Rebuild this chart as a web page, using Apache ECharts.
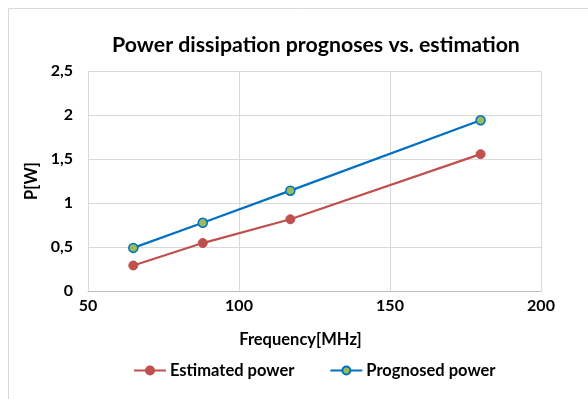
<!DOCTYPE html>
<html><head><meta charset="utf-8">
<script src="https://cdn.jsdelivr.net/npm/echarts@6/dist/echarts.min.js"></script>
<style>html,body{margin:0;padding:0;background:#fff}#c{width:588px;height:399px}</style>
</head><body><div id="c"></div>
<script>
const frequency = [65, 88, 117, 180];
const estimatedPower = [0.29, 0.545, 0.815, 1.555];
const prognosedPower = [0.49, 0.775, 1.14, 1.94];
const xTicks = [50, 100, 150, 200];
const yTicks = [0, 0.5, 1, 1.5, 2, 2.5];

const FONT = 'Lato, "Open Sans", sans-serif';
const chart = echarts.init(document.getElementById('c'), null, {renderer: 'canvas'});
const fmt = v => String(v).replace('.', ',');
chart.setOption({
  animation: false,
  backgroundColor: '#fff',
  graphic: [{type: 'rect', shape: {x: 8.5, y: 8.5, width: 600, height: 420}, style: {fill: 'none', stroke: '#D9D9D9', lineWidth: 1}, silent: true}],
  title: {text: 'Power dissipation prognoses vs. estimation', left: 311, top: 30, textAlign: 'center',
    textStyle: {fontFamily: FONT, fontSize: 21.3, fontWeight: 'bold', color: '#000'}},
  grid: {left: 88, right: 47, top: 71, bottom: 108},
  xAxis: {type: 'value', min: xTicks[0], max: xTicks[xTicks.length-1], interval: 50,
    name: 'Frequency[MHz]', nameLocation: 'middle', nameGap: 40,
    nameTextStyle: {fontFamily: FONT, fontSize: 16.5, fontWeight: 'bold', color: '#000', padding: [0, 28, 0, 0]},
    axisLine: {lineStyle: {color: '#BFBFBF'}}, axisTick: {show: false},
    axisLabel: {fontFamily: FONT, fontSize: 16, fontWeight: 'bold', color: '#000', margin: 7},
    splitLine: {lineStyle: {color: '#D9D9D9'}}},
  yAxis: {type: 'value', min: 0, max: 2.5, interval: 0.5,
    name: 'P[W]', nameLocation: 'middle', nameGap: 47, nameRotate: 90,
    nameTextStyle: {fontFamily: FONT, fontSize: 16.5, fontWeight: 'bold', color: '#000'},
    axisLine: {show: false}, axisTick: {show: false},
    axisLabel: {fontFamily: FONT, fontSize: 16, fontWeight: 'bold', color: '#000', margin: 15, formatter: fmt},
    splitLine: {lineStyle: {color: '#D9D9D9'}}},
  legend: {top: 357, left: 128, itemGap: 35, itemWidth: 32, itemHeight: 10,
    textStyle: {fontFamily: FONT, fontSize: 16.5, fontWeight: 'bold', color: '#000', padding: [0,0,0,-1]},
    data: ['Estimated power', 'Prognosed power']},
  series: [
    {name: 'Estimated power', type: 'line', data: frequency.map((f,i)=>[f, estimatedPower[i]]),
      symbol: 'circle', symbolSize: 9, lineStyle: {color: '#C0504D', width: 2.25},
      itemStyle: {color: '#C0504D', borderColor: '#C0504D', borderWidth: 1}},
    {name: 'Prognosed power', type: 'line', data: frequency.map((f,i)=>[f, prognosedPower[i]]),
      symbol: 'circle', symbolSize: 9, lineStyle: {color: '#0070C0', width: 2.25},
      itemStyle: {color: '#9BBB59', borderColor: '#0070C0', borderWidth: 1.5}}
  ]
});
</script></body></html>
